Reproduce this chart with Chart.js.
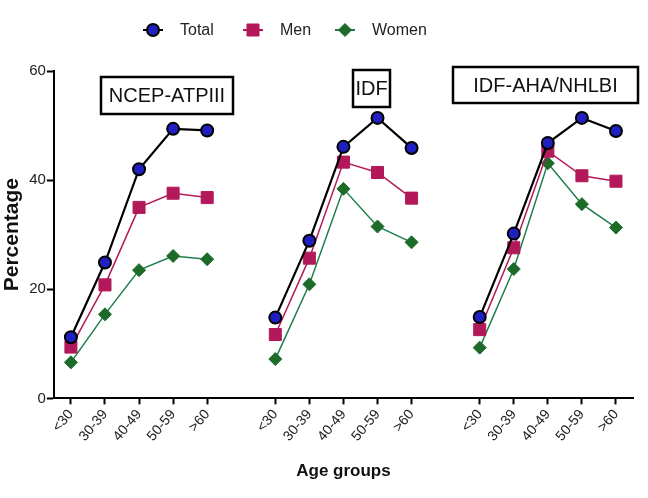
<!DOCTYPE html>
<html>
<head>
<meta charset="utf-8">
<script src="https://cdn.jsdelivr.net/npm/chart.js@4"></script>
<style>
  html, body { margin: 0; padding: 0; background: #fff; }
  #wrap { width: 648px; height: 498px; }
</style>
</head>
<body>
<div id="wrap"><canvas id="sindrome"></canvas></div>
<script>
// three criteria, five age groups each, one empty slot between criteria
var criterios = ["NCEP-ATPIII", "IDF", "IDF-AHA/NHLBI"];
var edades = ["<30", "30-39", "40-49", "50-59", ">60"];

var total = [
  [11.2, 24.9, 42.0, 49.4, 49.1],
  [14.8, 28.9, 46.1, 51.4, 45.9],
  [14.9, 30.2, 46.8, 51.4, 49.0]
];
var hombres = [
  [9.4, 20.8, 35.0, 37.6, 36.8],
  [11.7, 25.7, 43.3, 41.4, 36.7],
  [12.6, 27.6, 45.3, 40.8, 39.8]
];
var mujeres = [
  [6.6, 15.4, 23.5, 26.1, 25.5],
  [7.2, 20.9, 38.4, 31.5, 28.6],
  [9.3, 23.7, 43.1, 35.6, 31.3]
];
var ticksY = [0, 20, 40, 60];

// flatten groups with a null gap between them
function juntar(grupos) {
  var out = [];
  grupos.forEach(function (g, i) {
    if (i > 0) out.push(null);
    out = out.concat(g);
  });
  return out;
}
var etiquetas = [];
criterios.forEach(function (c, i) {
  if (i > 0) etiquetas.push("");
  etiquetas = etiquetas.concat(edades);
});

var fuente = "'Liberation Sans', Arial, sans-serif";

function marca(ctx, estilo, x, y, r, fill, borde, bw) {
  ctx.beginPath();
  if (estilo === "circle") {
    ctx.arc(x, y, r, 0, Math.PI * 2);
  } else if (estilo === "rect") {
    var s = r * Math.SQRT1_2;
    ctx.rect(x - s, y - s, 2 * s, 2 * s);
  } else {
    ctx.moveTo(x, y - r); ctx.lineTo(x + r, y); ctx.lineTo(x, y + r); ctx.lineTo(x - r, y);
    ctx.closePath();
  }
  ctx.fillStyle = fill;
  ctx.fill();
  ctx.lineWidth = bw;
  ctx.strokeStyle = borde;
  ctx.stroke();
}

var cajasYLeyenda = {
  id: "cajasYLeyenda",
  afterDatasetsDraw: function (chart) {
    var ctx = chart.ctx;
    var pos = [[101, 77, 132, 37], [353, 70, 37, 37], [453, 67, 185, 36]];
    ctx.save();
    ctx.font = "20px " + fuente;
    ctx.textAlign = "center";
    ctx.textBaseline = "middle";
    criterios.forEach(function (c, i) {
      var p = pos[i];
      ctx.fillStyle = "#fff";
      ctx.fillRect(p[0], p[1], p[2], p[3]);
      ctx.lineWidth = 2.5;
      ctx.strokeStyle = "#000";
      ctx.strokeRect(p[0], p[1], p[2], p[3]);
      ctx.fillStyle = "#111";
      ctx.fillText(c, p[0] + p[2] / 2, p[1] + p[3] / 2 + 1);
    });

    // legend: line segment with marker, then the label
    var xs = [153, 253, 345];
    var y = 30;
    ctx.font = "16px " + fuente;
    ctx.textAlign = "left";
    chart.data.datasets.forEach(function (ds, i) {
      var x = xs[i];
      ctx.beginPath();
      ctx.moveTo(x - 10, y);
      ctx.lineTo(x + 10, y);
      ctx.lineWidth = 2;
      ctx.strokeStyle = ds.borderColor;
      ctx.stroke();
      marca(ctx, ds.pointStyle, x, y, ds.pointRadius, ds.backgroundColor, ds.pointBorderColor, ds.pointBorderWidth);
      ctx.fillStyle = "#222";
      ctx.fillText(ds.label, x + 27, y + 1);
    });
    ctx.restore();
  }
};

var sindrome = document.getElementById("sindrome").getContext("2d");

var chart = new Chart(sindrome, {
    type: "line",
    data: {
      labels: etiquetas,
      datasets: [
        {
          label: "Total",
          data: juntar(total),
          borderColor: "#000",
          borderWidth: 2.2,
          backgroundColor: "#2020c0",
          pointBorderColor: "#000",
          pointBorderWidth: 2,
          pointStyle: "circle",
          pointRadius: 6,
          spanGaps: false
        },
        {
          label: "Men",
          data: juntar(hombres),
          borderColor: "#b3195a",
          borderWidth: 1.5,
          backgroundColor: "#b3195a",
          pointBorderColor: "#b3195a",
          pointBorderWidth: 1,
          pointStyle: "rect",
          pointRadius: 8.5,
          spanGaps: false
        },
        {
          label: "Women",
          data: juntar(mujeres),
          borderColor: "#1e7f4c",
          borderWidth: 1.5,
          backgroundColor: "#1d6b28",
          pointBorderColor: "#1d6b28",
          pointBorderWidth: 1,
          pointStyle: "rectRot",
          pointRadius: 6.5,
          spanGaps: false
        }
      ]
    },
    options: {
      responsive: true,
      maintainAspectRatio: false,
      animation: false,
      layout: { padding: { left: 0, right: 15, top: 71, bottom: 12 } },
      plugins: {
        legend: { display: false },
        tooltip: { enabled: false }
      },
      scales: {
        x: {
          type: "category",
          offset: true,
          grid: {
            drawOnChartArea: false,
            drawTicks: true,
            tickLength: 6,
            tickWidth: 2,
            tickColor: function (c) { return etiquetas[c.index] === "" ? "rgba(0,0,0,0)" : "#000"; }
          },
          border: { color: "#000", width: 2 },
          ticks: {
            autoSkip: false,
            minRotation: 50,
            maxRotation: 50,
            padding: 2,
            color: "#222",
            font: { family: fuente, size: 14 }
          },
          title: {
            display: true,
            text: "Age groups",
            color: "#111",
            padding: { top: 15, bottom: 4 },
            font: { family: fuente, size: 17, weight: "bold" }
          }
        },
        y: {
          min: 0,
          max: 60,
          afterBuildTicks: function (s) { s.ticks = ticksY.map(function (v) { return { value: v }; }); },
          grid: {
            drawOnChartArea: false,
            drawTicks: true,
            tickLength: 7,
            tickWidth: 2,
            tickColor: "#000"
          },
          border: { color: "#000", width: 2 },
          ticks: {
            color: "#222",
            padding: 1,
            font: { family: fuente, size: 15 }
          },
          title: {
            display: true,
            text: "Percentage",
            color: "#111",
            padding: { top: 0, bottom: 3 },
            font: { family: fuente, size: 21, weight: "bold" }
          }
        }
      }
    },
    plugins: [cajasYLeyenda]
});
</script>
</body>
</html>
